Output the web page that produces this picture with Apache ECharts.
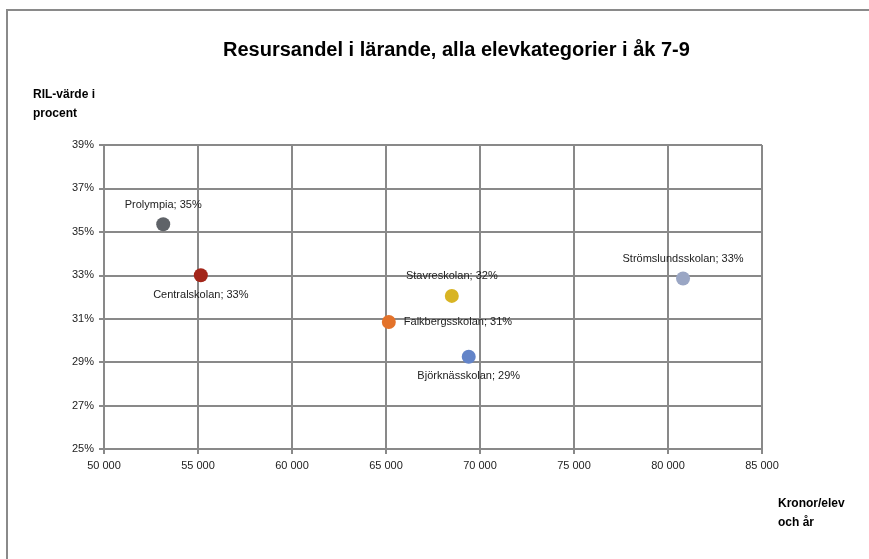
<!DOCTYPE html>
<html>
<head>
<meta charset="utf-8">
<script src="https://cdn.jsdelivr.net/npm/echarts@6/dist/echarts.min.js"></script>
<style>
  html, body { margin: 0; padding: 0; background: #fff; }
  #main { width: 869px; height: 559px; }
</style>
</head>
<body>
<div id="main"></div>
<script>
// skolor, kronor per elev och RIL-värde (procent)
const schools = ['Prolympia', 'Centralskolan', 'Stavreskolan', 'Falkbergsskolan', 'Björknässkolan', 'Strömslundsskolan'];
const kronor = [53150, 55150, 68500, 65150, 69400, 80800];
const ril = [35.35, 33.0, 32.05, 30.85, 29.25, 32.85];
const colors = ['#5f6368', '#a3261a', '#d8b424', '#e3722a', '#6384c8', '#9aa6c4'];
const labelPos = ['top', 'bottom', 'top', 'right', 'bottom', 'top'];
const yTicks = [25, 27, 29, 31, 33, 35, 37, 39];

const font = '"Liberation Sans", Arial, sans-serif';
const gridColor = '#898989';

const e = echarts.init(document.getElementById('main'));

const series = schools.map(function (s, i) {
    return {
        name: s,
        type: 'scatter',
        symbolSize: 14,
        itemStyle: { color: colors[i], opacity: 1 },
        label: {
            show: true,
            position: labelPos[i],
            distance: labelPos[i] === 'right' ? 8 : 7,
            fontFamily: font,
            fontSize: 11,
            color: '#222',
            formatter: function (p) {
                return p.seriesName + '; ' + Math.round(p.value[1]) + '%';
            }
        },
        data: [[kronor[i], ril[i]]]
    };
});

const option = {
    backgroundColor: '#fff',
    animation: false,
    title: {
        text: 'Resursandel i lärande, alla elevkategorier i åk 7-9',
        left: 218,
        top: 35,
        textStyle: { fontFamily: font, fontWeight: 'bold', fontSize: 20, color: '#000' }
    },
    graphic: [
        {
            type: 'rect',
            shape: { x: 7, y: 10, width: 900, height: 600 },
            style: { fill: null, stroke: '#8a8a8a', lineWidth: 2 }
        },
        {
            type: 'text',
            left: 33, top: 85,
            style: { text: 'RIL-värde i\nprocent', font: 'bold 12px ' + font, fill: '#000', lineHeight: 19 }
        },
        {
            type: 'text',
            left: 778, top: 494,
            style: { text: 'Kronor/elev\noch år', font: 'bold 12px ' + font, fill: '#000', lineHeight: 19 }
        }
    ],
    grid: { left: 104, right: 107, top: 145, bottom: 110 },
    xAxis: {
        type: 'value',
        min: 50000,
        max: 85000,
        interval: 5000,
        axisLine: { show: true, lineStyle: { color: gridColor, width: 2 } },
        axisTick: { show: true, length: 5, lineStyle: { color: gridColor, width: 2 } },
        splitLine: { show: true, lineStyle: { color: gridColor, width: 2 } },
        axisLabel: {
            margin: 11,
            fontFamily: font,
            fontSize: 11,
            color: '#222',
            formatter: function (v) { return String(v).replace(/(\d+)(\d{3})$/, '$1 $2'); }
        }
    },
    yAxis: {
        type: 'value',
        min: 25,
        max: 39,
        axisLine: { show: true, lineStyle: { color: gridColor, width: 2 } },
        axisTick: { show: true, length: 5, customValues: yTicks, lineStyle: { color: gridColor, width: 2 } },
        splitLine: { show: true, lineStyle: { color: gridColor, width: 2 } },
        axisLabel: {
            customValues: yTicks,
            margin: 10,
            fontFamily: font,
            fontSize: 11,
            color: '#222',
            formatter: function (v) { return v + '%'; }
        }
    },
    series: series
};

e.setOption(option);
</script>
</body>
</html>
